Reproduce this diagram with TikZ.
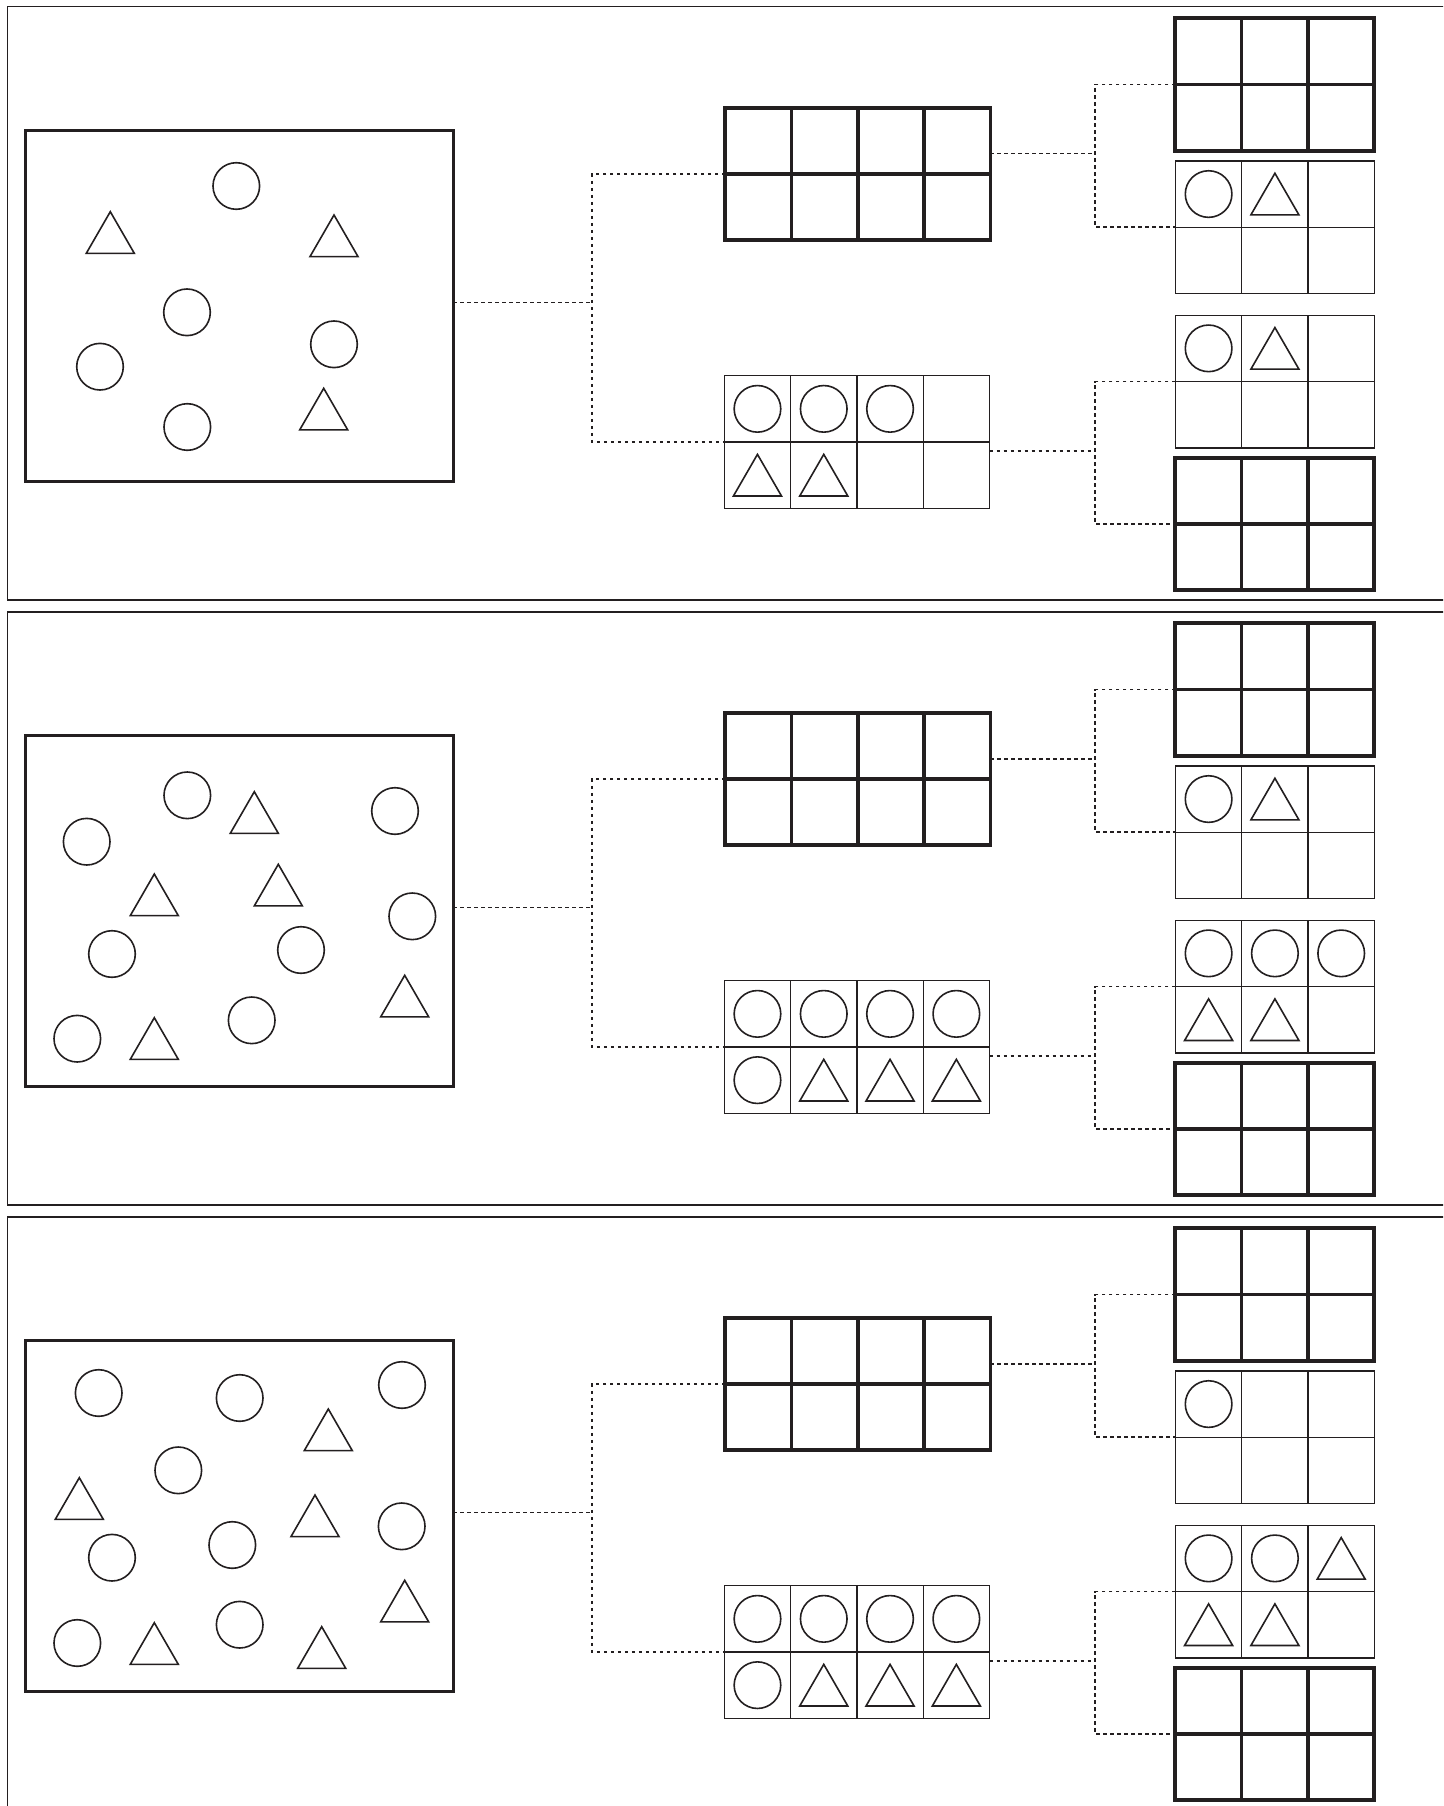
\documentclass[tikz,border=0pt]{standalone}
\usetikzlibrary{calc}
\definecolor{ink}{HTML}{231F20}

% inner lines of a frame: middle row line and the column lines
\newcommand{\gridlines}[3]{%
  \draw[#3] (#1.west) -- (#1.east);
  \foreach \f in {#2}
    \draw[#3] ($(#1.north west)!\f!(#1.north east)$) -- ($(#1.south west)!\f!(#1.south east)$);
}
% a counter placed in column #2, row #3 of frame #1
\newcommand{\incell}[4]{\pic at ($(#1.north west)+({(#2-0.5)*66.3},{(#3-0.5)*66.3})$) {#4};}

\begin{document}
\begin{tikzpicture}[
  x=1pt, y=-1pt,
  panel/.style={draw=ink, line width=1.2pt},
  bigbox/.style={draw=ink, line width=3.2pt, minimum width=428pt, minimum height=351pt, inner sep=0pt, outer sep=0pt},
  thickframe/.style={draw=ink, line width=3.8pt, minimum height=132.6pt, inner sep=0pt, outer sep=0pt},
  thinframe/.style={draw=ink, line width=1.4pt, minimum height=132.6pt, inner sep=0pt, outer sep=0pt},
  thickline/.style={draw=ink, line width=3.8pt},
  thinline/.style={draw=ink, line width=1.4pt},
  ten/.style={minimum width=265.2pt},
  six/.style={minimum width=198.9pt},
  link/.style={draw=ink, line width=1.6pt, dash pattern=on 3.5pt off 3.5pt},
  figline/.style={draw=ink, line width=1.6pt},
  circ/.pic={\draw[figline] (0,0) circle[radius=23.3];},
  tri/.pic={\draw[figline] (0,-20.8) -- (24,20.8) -- (-24,20.8) -- cycle;}
]
\path[use as bounding box, clip] (0,0) rectangle (1443,1806);
\fill[white] (0,0) rectangle (1443,1806);

\foreach \p/\dy in {1/0, 2/605, 3/1210} {
  \begin{scope}[shift={(0,\dy)}]
    \draw[panel] (1460,6.9) -- (7.3,6.9) -- (7.3,600) -- (1460,600);
    \node[bigbox] (big\p) at (239.2,305.8) {};
    \node[thickframe, ten] (tA\p) at (857.8,174) {};
    \node[thinframe, ten] (tB\p) at (856.9,442) {};
    \node[thickframe, six] (rA\p) at (1274.7,84.5) {};
    \node[thinframe, six] (rB\p) at (1274.9,227.2) {};
    \node[thinframe, six] (rC\p) at (1274.9,381.5) {};
    \node[thickframe, six] (rD\p) at (1274.7,523.9) {};
    \gridlines{tA\p}{0.25,0.5,0.75}{thickline}
    \gridlines{tB\p}{0.25,0.5,0.75}{thinline}
    \gridlines{rA\p}{0.3333,0.6667}{thickline}
    \gridlines{rB\p}{0.3333,0.6667}{thinline}
    \gridlines{rC\p}{0.3333,0.6667}{thinline}
    \gridlines{rD\p}{0.3333,0.6667}{thickline}
    \coordinate (m\p) at (592,302.3);
    \coordinate (n\p) at (1095,153.7);
    \coordinate (o\p) at (1095,451);
    \draw[link] (big\p.east |- m\p) -- (m\p);
    \draw[link] (tA\p.west) -| (m\p) |- (tB\p.west);
    \draw[link] (tA\p.east |- n\p) -- (n\p);
    \draw[link] (rA\p.west) -| (n\p) |- (rB\p.west);
    \draw[link] (tB\p.east |- o\p) -- (o\p);
    \draw[link] (rC\p.west) -| (o\p) |- (rD\p.west);
  \end{scope}
}

% panel 1
\foreach \c in {(236.3,186), (187,312.3), (100,366.7), (334,344.3), (187.3,427)}
  \pic at \c {circ};
\foreach \t in {(110.3,232.5), (334,235.8), (323.7,409.1)}
  \pic at \t {tri};
\incell{tB1}{1}{1}{circ} \incell{tB1}{2}{1}{circ} \incell{tB1}{3}{1}{circ}
\incell{tB1}{1}{2}{tri} \incell{tB1}{2}{2}{tri}
\incell{rB1}{1}{1}{circ} \incell{rB1}{2}{1}{tri}
\incell{rC1}{1}{1}{circ} \incell{rC1}{2}{1}{tri}

% panel 2
\foreach \c in {(187.3,795.3), (86.7,841.7), (395,811), (412.3,916.3), (112,954), (301,950), (251.7,1020.3), (77.3,1038.7)}
  \pic at \c {circ};
\foreach \t in {(254.3,812.5), (154.3,894.8), (278.3,885.1), (404.7,996.1), (154.3,1038.5)}
  \pic at \t {tri};
\incell{tB2}{1}{1}{circ} \incell{tB2}{2}{1}{circ} \incell{tB2}{3}{1}{circ} \incell{tB2}{4}{1}{circ}
\incell{tB2}{1}{2}{circ} \incell{tB2}{2}{2}{tri} \incell{tB2}{3}{2}{tri} \incell{tB2}{4}{2}{tri}
\incell{rB2}{1}{1}{circ} \incell{rB2}{2}{1}{tri}
\incell{rC2}{1}{1}{circ} \incell{rC2}{2}{1}{circ} \incell{rC2}{3}{1}{circ}
\incell{rC2}{1}{2}{tri} \incell{rC2}{2}{2}{tri}

% panel 3
\foreach \c in {(98.7,1393), (239.7,1398), (402,1385), (178.3,1470.3), (112,1557.7), (232.3,1545), (401.7,1526.3), (77.3,1643), (239.7,1624.7)}
  \pic at \c {circ};
\foreach \t in {(328.3,1429.8), (79.3,1498.5), (315,1515.8), (404.7,1601.1), (154.3,1643.5), (321.7,1647.5)}
  \pic at \t {tri};
\incell{tB3}{1}{1}{circ} \incell{tB3}{2}{1}{circ} \incell{tB3}{3}{1}{circ} \incell{tB3}{4}{1}{circ}
\incell{tB3}{1}{2}{circ} \incell{tB3}{2}{2}{tri} \incell{tB3}{3}{2}{tri} \incell{tB3}{4}{2}{tri}
\incell{rB3}{1}{1}{circ}
\incell{rC3}{1}{1}{circ} \incell{rC3}{2}{1}{circ} \incell{rC3}{3}{1}{tri}
\incell{rC3}{1}{2}{tri} \incell{rC3}{2}{2}{tri}
\end{tikzpicture}
\end{document}
